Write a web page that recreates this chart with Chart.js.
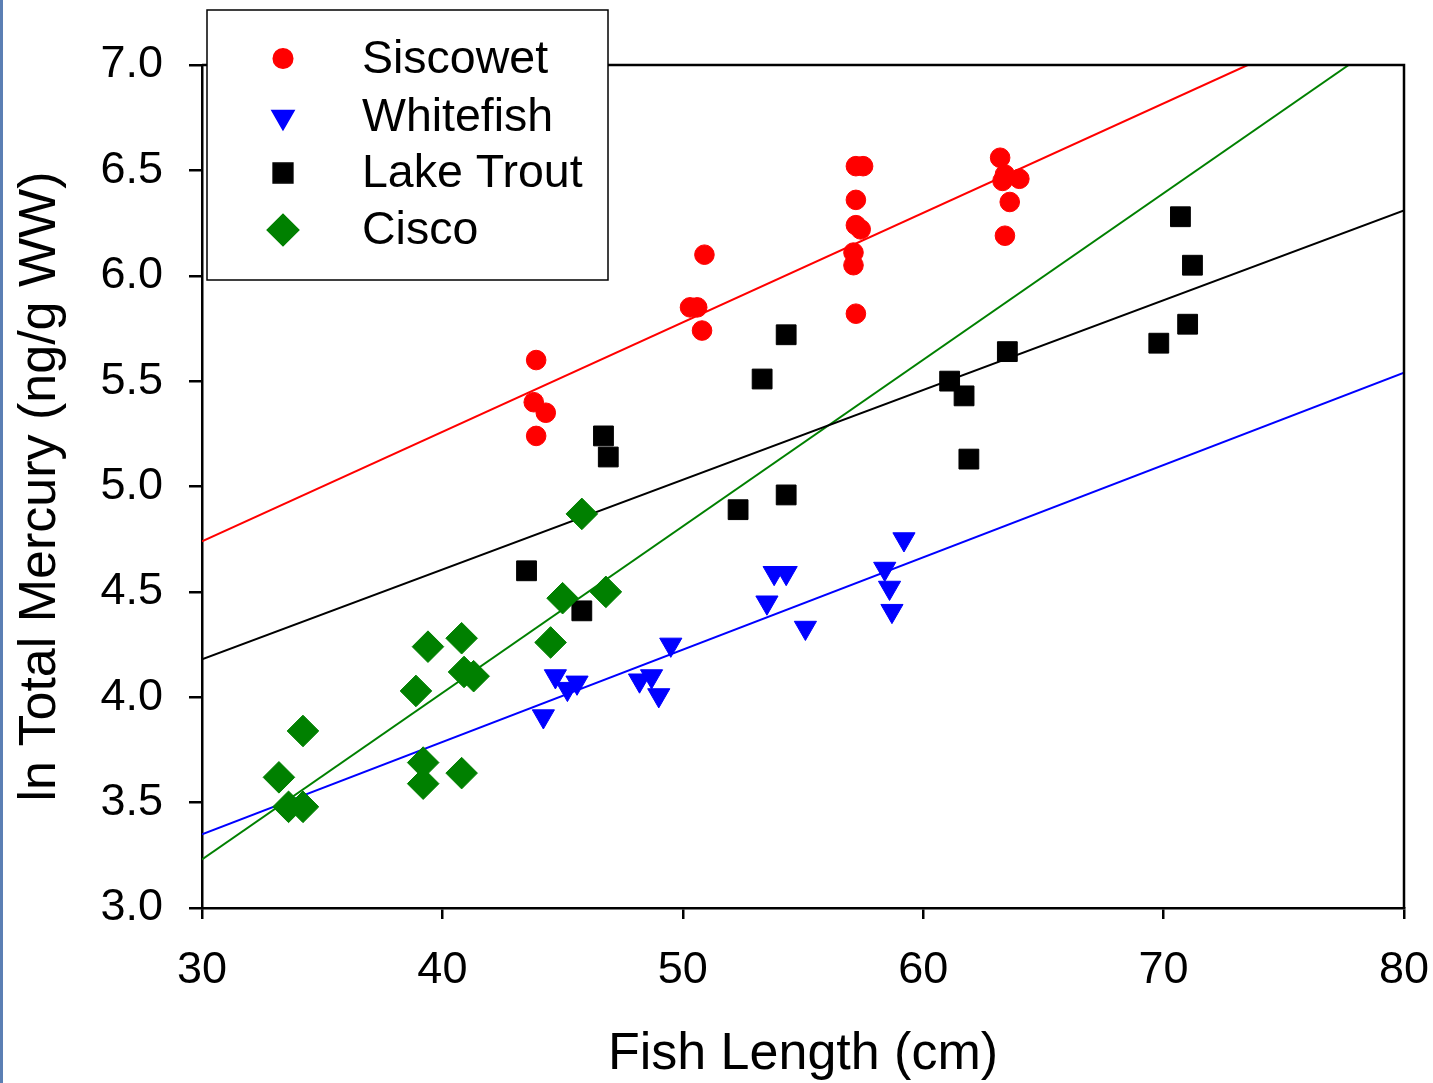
<!DOCTYPE html>
<html>
<head>
<meta charset="utf-8">
<title>Fish length vs ln total mercury</title>
<script src="https://cdn.jsdelivr.net/npm/chart.js@4.4.1/dist/chart.umd.min.js"></script>
<style>
  html, body { margin: 0; padding: 0; background: #fff; }
  #wrap { position: relative; width: 1433px; height: 1083px; }
</style>
</head>
<body>
<div id="wrap"><canvas id="fishChart" width="1433" height="1083"></canvas></div>
<script>
// Fish length (cm) and ln total mercury (ng/g WW)
const siscowetLength = [43.9, 43.8, 44.3, 43.9, 50.3, 50.6, 50.8, 50.9, 57.2, 57.5, 57.2, 57.2, 57.4, 57.1, 57.1, 57.2, 63.2, 63.4, 63.3, 64.0, 63.6, 63.4];
const siscowetHg = [5.60, 5.40, 5.35, 5.24, 5.85, 5.85, 5.74, 6.10, 6.52, 6.52, 6.36, 6.24, 6.22, 6.11, 6.05, 5.82, 6.56, 6.48, 6.45, 6.46, 6.35, 6.19];

const whitefishLength = [44.2, 44.7, 45.2, 45.6, 48.2, 48.7, 49.0, 49.5, 53.5, 53.8, 54.3, 55.1, 58.4, 58.6, 58.7, 59.2];
const whitefishHg = [3.91, 4.10, 4.04, 4.07, 4.08, 4.10, 4.01, 4.25, 4.45, 4.59, 4.59, 4.33, 4.61, 4.52, 4.41, 4.75];

const lakeTroutLength = [43.5, 45.8, 46.7, 46.9, 52.3, 53.3, 54.3, 54.3, 61.1, 61.7, 61.9, 63.5, 69.8, 70.7, 71.0, 71.2];
const lakeTroutHg = [4.60, 4.41, 5.24, 5.14, 4.89, 5.51, 5.72, 4.96, 5.50, 5.43, 5.13, 5.64, 5.68, 6.28, 5.77, 6.05];

const ciscoLength = [45.8, 45.0, 46.8, 44.5, 39.4, 40.8, 38.9, 40.9, 41.3, 34.2, 33.2, 33.6, 34.2, 39.2, 39.2, 40.8];
const ciscoHg = [4.87, 4.47, 4.50, 4.26, 4.24, 4.28, 4.03, 4.12, 4.10, 3.84, 3.62, 3.48, 3.48, 3.69, 3.59, 3.64];

// regression line end points (x, y) as drawn
const siscowetFitX = [30, 73.5];
const siscowetFitY = [4.74, 7.0];
const whitefishFitX = [30, 80];
const whitefishFitY = [3.35, 5.54];
const lakeTroutFitX = [30, 80];
const lakeTroutFitY = [4.18, 6.31];
const ciscoFitX = [30, 77.7];
const ciscoFitY = [3.23, 7.0];

const speciesNames = ["Siscowet", "Whitefish", "Lake Trout", "Cisco"];
const xTicks = [30, 40, 50, 60, 70, 80];
const yTicks = [3.0, 3.5, 4.0, 4.5, 5.0, 5.5, 6.0, 6.5, 7.0];

const toPoints = (xs, ys) => xs.map((x, i) => ({ x: x, y: ys[i] }));

Chart.defaults.font.family = "'Liberation Sans', Arial, sans-serif";
Chart.defaults.color = "#000";

// marker look for each species (also used by the drawn legend)
const markers = [
  { color: "#ff0000", style: "circle", radius: 9.8, rotation: 0 },
  { color: "#0000ff", style: "triangle", radius: 12.8, rotation: 180 },
  { color: "#000000", style: "rect", radius: 14, rotation: 0 },
  { color: "#008000", style: "rectRot", radius: 15.8, rotation: 0 },
];

function scatterSet(i, xs, ys) {
  const m = markers[i];
  return {
    label: speciesNames[i],
    data: toPoints(xs, ys),
    pointStyle: m.style,
    pointRadius: m.radius,
    pointHoverRadius: m.radius,
    pointRotation: m.rotation,
    pointBackgroundColor: m.color,
    pointBorderColor: m.color,
    pointBorderWidth: 1,
    order: 4 - i,
  };
}

function fitSet(i, xs, ys) {
  return {
    label: speciesNames[i] + " fit",
    data: toPoints(xs, ys),
    showLine: true,
    borderColor: markers[i].color,
    borderWidth: 2,
    pointRadius: 0,
    pointHoverRadius: 0,
    order: 10,
  };
}

// left slide edge, top/right frame and the boxed legend
const frameAndLegend = {
  id: "frameAndLegend",
  beforeDraw(chart) {
    const ctx = chart.ctx;
    ctx.save();
    ctx.fillStyle = "#5b7fb4";
    ctx.fillRect(0, 0, 3, chart.height);
    ctx.restore();
  },
  afterDatasetsDraw(chart) {
    const { ctx, chartArea: a } = chart;
    ctx.save();
    ctx.strokeStyle = "#000";
    ctx.lineWidth = 2.5;
    ctx.beginPath();
    ctx.moveTo(a.left, a.top);
    ctx.lineTo(a.right, a.top);
    ctx.lineTo(a.right, a.bottom);
    ctx.stroke();

    // legend box
    ctx.fillStyle = "#fff";
    ctx.fillRect(207, 10, 401, 270);
    ctx.lineWidth = 1.5;
    ctx.strokeRect(207, 10, 401, 270);

    const rowY = [58.5, 117, 173, 230];
    ctx.font = "46.5px 'Liberation Sans', Arial, sans-serif";
    ctx.textBaseline = "middle";
    ctx.textAlign = "left";
    speciesNames.forEach((name, i) => {
      const m = markers[i];
      ctx.fillStyle = m.color;
      ctx.strokeStyle = m.color;
      Chart.helpers.drawPoint(ctx, {
        pointStyle: m.style,
        radius: m.radius,
        rotation: m.rotation,
        borderWidth: 1,
      }, 283, rowY[i]);
      ctx.fillStyle = "#000";
      ctx.fillText(name, 362, rowY[i] + 1.5);
    });
    ctx.restore();
  },
};

const ctx = document.getElementById("fishChart").getContext("2d");
new Chart(ctx, {
  type: "scatter",
  data: {
    datasets: [
      scatterSet(0, siscowetLength, siscowetHg),
      scatterSet(1, whitefishLength, whitefishHg),
      scatterSet(2, lakeTroutLength, lakeTroutHg),
      scatterSet(3, ciscoLength, ciscoHg),
      fitSet(0, siscowetFitX, siscowetFitY),
      fitSet(1, whitefishFitX, whitefishFitY),
      fitSet(2, lakeTroutFitX, lakeTroutFitY),
      fitSet(3, ciscoFitX, ciscoFitY),
    ],
  },
  options: {
    responsive: false,
    animation: false,
    events: [],
    layout: { padding: { top: 65, right: 29, left: 0, bottom: 0 } },
    plugins: {
      legend: { display: false },
      tooltip: { enabled: false },
    },
    scales: {
      x: {
        type: "linear",
        min: 30,
        max: 80,
        afterBuildTicks: (scale) => {
          scale.ticks = xTicks.map((v) => ({ value: v }));
        },
        ticks: {
          font: { size: 45 },
          color: "#000",
          padding: 25,
          maxRotation: 0,
        },
        grid: {
          drawOnChartArea: false,
          tickLength: 11,
          color: "#000",
          lineWidth: 2.5,
        },
        border: { color: "#000", width: 2.5 },
        title: {
          display: true,
          text: "Fish Length (cm)",
          font: { size: 52, lineHeight: 1.1 },
          color: "#000",
          padding: { top: 0, bottom: 0 },
        },
        afterFit: (scale) => {
          scale.height = 175;
          scale.paddingLeft = 0;
          scale.paddingRight = 0;
        },
      },
      y: {
        type: "linear",
        min: 3,
        max: 7,
        afterBuildTicks: (scale) => {
          scale.ticks = yTicks.map((v) => ({ value: v }));
        },
        ticks: {
          font: { size: 45 },
          color: "#000",
          padding: 26,
          callback: (v) => Number(v).toFixed(1),
        },
        grid: {
          drawOnChartArea: false,
          tickLength: 13,
          color: "#000",
          lineWidth: 2.5,
        },
        border: { color: "#000", width: 2.5 },
        title: {
          display: true,
          text: "ln Total Mercury (ng/g WW)",
          font: { size: 52, lineHeight: 1.1 },
          color: "#000",
          padding: { top: 12, bottom: 0 },
        },
        afterFit: (scale) => {
          scale.width = 202;
          scale.paddingTop = 0;
          scale.paddingBottom = 0;
        },
      },
    },
  },
  plugins: [frameAndLegend],
});
</script>
</body>
</html>
